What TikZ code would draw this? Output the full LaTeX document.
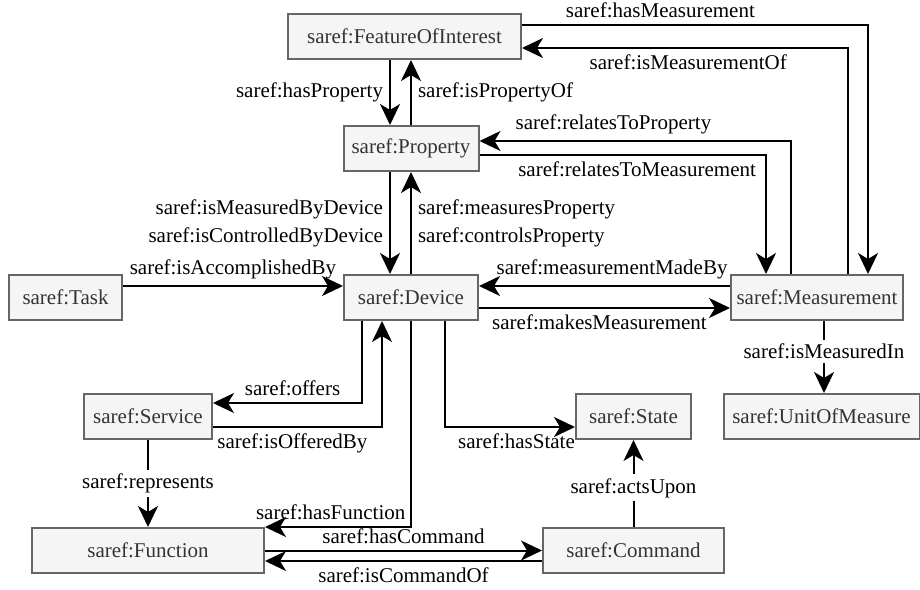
\documentclass[tikz,border=0pt]{standalone}
\usepackage{fontspec}
\setmainfont{Liberation Serif}
\usetikzlibrary{arrows.meta, calc}
\definecolor{boxfill}{HTML}{F5F5F5}
\definecolor{boxline}{HTML}{666666}
\definecolor{boxtext}{HTML}{333333}

\begin{document}
\begin{tikzpicture}[x=0.5pt, y=-0.5pt, font=\fontsize{10.5}{14}\selectfont,
  box/.style={rectangle, draw=boxline, fill=boxfill, text=boxtext, line width=1pt,
    minimum height=22.5pt, inner sep=0pt},
  rel/.style={-{Stealth[length=10.5pt, width=10pt, inset=3pt]}, line width=1pt},
  lbl/.style={inner sep=3pt},
  mid/.style={fill=white, inner sep=2pt}]
  % \draw[help lines] (0,0) grid (920,589);
  \useasboundingbox (0,0) rectangle (920,589);
  \node at (404.5, 36.5) [box, minimum width=116.5pt] (foi) {saref:FeatureOfInterest};
  \node at (411, 148.5) [box, minimum width=67.5pt] (prop) {saref:Property};
  \node at (65.5, 297.5) [box, minimum width=56.5pt] (task) {saref:Task};
  \node at (411, 297.5) [box, minimum width=67pt] (dev) {saref:Device};
  \node at (817, 297.5) [box, minimum width=86pt] (meas) {saref:Measurement};
  \node at (148, 416.5) [box, minimum width=64pt] (serv) {saref:Service};
  \node at (633.5, 416.5) [box, minimum width=57.5pt] (state) {saref:State};
  \node at (821.5, 416.5) [box, minimum width=98pt] (uom) {saref:UnitOfMeasure};
  \node at (148, 550.5) [box, minimum width=116pt] (func) {saref:Function};
  \node at (633.5, 550.5) [box, minimum width=90.5pt] (cmd) {saref:Command};

  % feature of interest / property
  \draw[rel] ($(foi.south)+(-14.5,0)$) -- node[lbl, left]{saref:hasProperty} ($(prop.north)+(-21,0)$);
  \draw[rel] (prop.north) -- node[lbl, right]{saref:isPropertyOf} ($(foi.south)+(6.5,0)$);
  \draw[rel] ($(foi.east)+(0,-11.5)$) -| node[lbl, above, pos=0.2]{saref:hasMeasurement} ($(meas.north)+(51,0)$);
  \draw[rel] ($(meas.north)+(31,0)$) |- node[lbl, below, pos=0.745]{saref:isMeasurementOf} ($(foi.east)+(0,11.5)$);
  \draw[rel] ($(meas.north)+(-26,0)$) |- node[lbl, above, pos=0.785]{saref:relatesToProperty} ($(prop.east)+(0,-7.5)$);
  \draw[rel] ($(prop.east)+(0,6.5)$) -| node[lbl, below, pos=0.275]{saref:relatesToMeasurement} ($(meas.north)+(-51,0)$);

  % device
  \draw[rel] ($(prop.south)+(-21,0)$) -- node[lbl, left, align=right]{saref:isMeasuredByDevice\\saref:isControlledByDevice} ($(dev.north)+(-21,0)$);
  \draw[rel] (dev.north) -- node[lbl, right, align=left]{saref:measuresProperty\\saref:controlsProperty} (prop.south);
  \draw[rel] ($(task.east)+(0,-11.5)$) -- node[lbl, above]{saref:isAccomplishedBy} ($(dev.west)+(0,-11.5)$);
  \draw[rel] ($(meas.west)+(0,-11.5)$) -- node[lbl, above, pos=0.47]{saref:measurementMadeBy} ($(dev.east)+(0,-11.5)$);
  \draw[rel] ($(dev.east)+(0,10.5)$) -- node[lbl, below, pos=0.48]{saref:makesMeasurement} ($(meas.west)+(0,10.5)$);
  \draw[rel] ($(meas.south)+(7,0)$) -- node[mid, pos=0.42]{saref:isMeasuredIn} ($(uom.north)+(2.5,0)$);

  % services, functions, commands
  \draw[rel] ($(dev.south)+(-49,0)$) |- node[lbl, above, pos=0.733]{saref:offers} ($(serv.east)+(0,-13.5)$);
  \draw[rel] ($(serv.east)+(0,10.5)$) -| node[lbl, below, pos=0.235]{saref:isOfferedBy} ($(dev.south)+(-29,0)$);
  \draw[rel] (dev.south) |- node[lbl, above, pos=0.775]{saref:hasFunction} (func.north east);
  \draw[rel] ($(dev.south)+(34,0)$) |- node[lbl, below, pos=0.775]{saref:hasState} ($(state.west)+(0,10.5)$);
  \draw[rel] (serv) -- node[mid]{saref:represents} (func);
  \draw[rel] (func.east) -- node[lbl, above]{saref:hasCommand} (cmd.west);
  \draw[rel] ($(cmd.west)+(0,10.5)$) -- node[lbl, below]{saref:isCommandOf} ($(func.east)+(0,10.5)$);
  \draw[rel] (cmd) -- node[mid, pos=0.45]{saref:actsUpon} (state);
\end{tikzpicture}
\end{document}
